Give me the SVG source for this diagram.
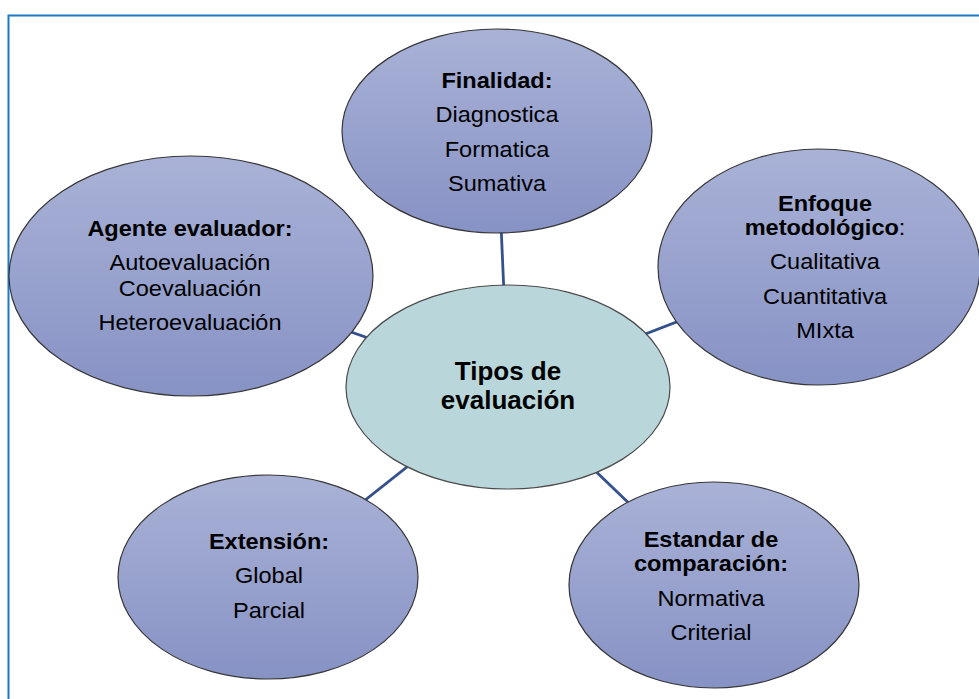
<svg xmlns="http://www.w3.org/2000/svg" width="979" height="699" viewBox="0 0 979 699">
<defs>
<linearGradient id="blueFill" x1="0" y1="0" x2="0" y2="1">
<stop offset="0" stop-color="#a9b2d6"/>
<stop offset="1" stop-color="#8792c5"/>
</linearGradient>
</defs>
<style>
.node { fill: url(#blueFill); stroke: #363636; stroke-width: 1.2; }
.hub { fill: #b9d7db; stroke: #4a4a4a; stroke-width: 1.2; }
.conn { stroke: #34508f; stroke-width: 2.8; fill: none; }
text { font-family: "Liberation Sans", Arial, sans-serif; fill: #000; text-anchor: middle; }
.t { font-size: 22px; font-weight: bold; }
.i { font-size: 22px; }
.c { font-size: 25px; font-weight: bold; }
</style>
<rect x="0" y="0" width="979" height="699" fill="#ffffff"/>
<rect x="8.5" y="15.5" width="985" height="700" fill="none" stroke="#1e78c8" stroke-width="2"/>
<g id="connectors">
<line class="conn" x1="508" y1="387" x2="497" y2="131"/>
<line class="conn" x1="508" y1="387" x2="819" y2="267"/>
<line class="conn" x1="508" y1="387" x2="191" y2="276"/>
<line class="conn" x1="508" y1="387" x2="268" y2="577"/>
<line class="conn" x1="508" y1="387" x2="714" y2="585"/>
</g>
<g id="finalidad">
<ellipse class="node" cx="497" cy="131" rx="155" ry="102"/>
<g transform="translate(497 0) scale(1.07 1)">
<text class="t" x="0" y="88">Finalidad:</text>
<text class="i" x="0" y="122">Diagnostica</text>
<text class="i" x="0" y="157">Formatica</text>
<text class="i" x="0" y="191">Sumativa</text>
</g>
</g>
<g id="enfoque">
<ellipse class="node" cx="819" cy="267" rx="161" ry="118"/>
<g transform="translate(825 0) scale(1.07 1)">
<text class="t" x="0" y="211">Enfoque</text>
<text class="t" x="0" y="235">metodológico<tspan font-weight="normal">:</tspan></text>
<text class="i" x="0" y="269">Cualitativa</text>
<text class="i" x="0" y="304">Cuantitativa</text>
<text class="i" x="0" y="338">MIxta</text>
</g>
</g>
<g id="agente">
<ellipse class="node" cx="191" cy="276" rx="182" ry="120"/>
<g transform="translate(190 0) scale(1.07 1)">
<text class="t" x="0" y="236">Agente evaluador:</text>
<text class="i" x="0" y="270">Autoevaluación</text>
<text class="i" x="0" y="296">Coevaluación</text>
<text class="i" x="0" y="330">Heteroevaluación</text>
</g>
</g>
<g id="tipos">
<ellipse class="hub" cx="508" cy="387" rx="162" ry="102"/>
<g transform="translate(508 0) scale(1.04 1)">
<text class="c" x="0" y="380">Tipos de</text>
<text class="c" x="0" y="409">evaluación</text>
</g>
</g>
<g id="extension">
<ellipse class="node" cx="268" cy="577" rx="150" ry="102"/>
<g transform="translate(269 0) scale(1.07 1)">
<text class="t" x="0" y="549">Extensión:</text>
<text class="i" x="0" y="583">Global</text>
<text class="i" x="0" y="618">Parcial</text>
</g>
</g>
<g id="estandar">
<ellipse class="node" cx="714" cy="585" rx="145" ry="103"/>
<g transform="translate(711 0) scale(1.07 1)">
<text class="t" x="0" y="547">Estandar de</text>
<text class="t" x="0" y="571">comparación:</text>
<text class="i" x="0" y="606">Normativa</text>
<text class="i" x="0" y="640">Criterial</text>
</g>
</g>
</svg>
